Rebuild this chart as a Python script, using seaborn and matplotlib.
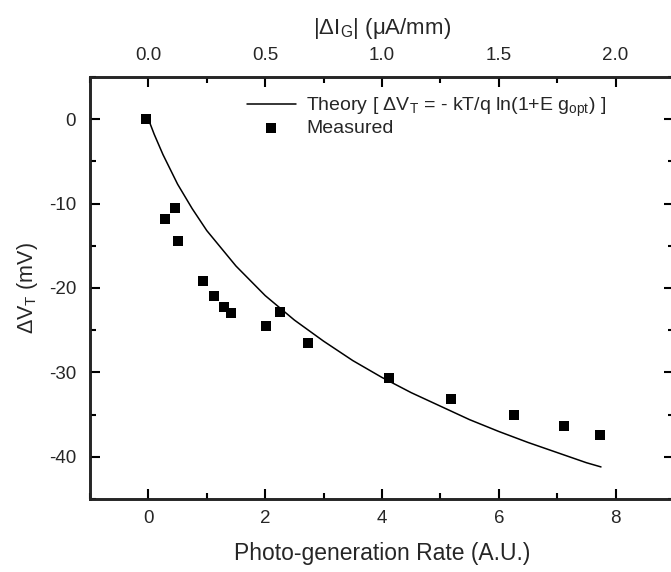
import numpy as np
import pandas as pd
import matplotlib
matplotlib.use("Agg")
import matplotlib.pyplot as plt
from matplotlib.ticker import MultipleLocator, FixedLocator, FormatStrFormatter
import seaborn as sns

meas_x = [-0.04, 0.28, 0.46, 0.50, 0.94, 1.12, 1.30, 1.42, 2.02, 2.25, 2.74, 4.12, 5.19, 6.26, 7.11, 7.73]
meas_y = [0.0, -11.8, -10.5, -14.4, -19.2, -21.0, -22.2, -23.0, -24.5, -22.9, -26.5, -30.7, -33.2, -35.1, -36.4, -37.4]

# Theory curve
theo_x = [0.0, 0.1, 0.25, 0.5, 0.75, 1.0, 1.5, 2.0, 2.5, 3.0, 3.5, 4.0, 4.5, 5.0, 5.5, 6.0, 6.5, 7.0, 7.5, 7.75]
theo_y = [0.0, -1.8, -4.2, -7.7, -10.6, -13.2, -17.4, -20.9, -23.8, -26.3, -28.6, -30.6, -32.4, -34.0, -35.6, -37.0, -38.3, -39.5, -40.7, -41.2]

# Top axis ticks (|ΔI_G|, μA/mm)
top_ticks = [0.0, 0.5, 1.0, 1.5, 2.0]

sns.set_theme(style="ticks")
plt.rcParams['font.family'] = ['Liberation Sans', 'DejaVu Sans']
plt.rcParams['mathtext.fontset'] = 'custom'
plt.rcParams['mathtext.rm'] = 'Liberation Sans'
plt.rcParams['mathtext.it'] = 'Liberation Sans:italic'
plt.rcParams['axes.unicode_minus'] = False

fig = plt.figure(figsize=(6.71, 5.72), dpi=100)
ax = fig.add_axes([90/671, 73/572, 584/671, 422/572])

theo = pd.DataFrame({"x": theo_x, "y": theo_y})
meas = pd.DataFrame({"x": meas_x, "y": meas_y})

sns.lineplot(data=theo, x="x", y="y", ax=ax, color="black", linewidth=1.1,
             label=r"Theory [ $\Delta$V$_\mathregular{T}$ = - kT/q ln(1+E g$_\mathregular{opt}$) ]",
             sort=False)
sns.scatterplot(data=meas, x="x", y="y", ax=ax, color="black", marker="s", s=62,
                edgecolor="black", linewidth=0, label="Measured")

ax.set_xlim(-1, 9)
ax.set_ylim(-45, 5)
ax.xaxis.set_major_locator(MultipleLocator(2))
ax.xaxis.set_minor_locator(MultipleLocator(1))
ax.yaxis.set_major_locator(MultipleLocator(10))
ax.yaxis.set_minor_locator(MultipleLocator(5))

for s in ax.spines.values():
    s.set_linewidth(1.8)
    s.set_color("black")

ax.tick_params(which="both", direction="in", right=True, top=False, color="black", width=1.5)
ax.tick_params(which="major", length=7, labelsize=13.5)
ax.tick_params(which="minor", length=4)
ax.tick_params(axis="x", which="major", pad=8)
ax.tick_params(axis="y", which="major", pad=10)

ax.set_xlabel("Photo-generation Rate (A.U.)", fontsize=16.5, labelpad=11)
ax.set_ylabel(r"$\Delta$V$_\mathregular{T}$ (mV)", fontsize=15.5, labelpad=6)

top = ax.twiny()
top.set_xlim(-1 / 4.0, 9 / 4.0)
top.xaxis.set_major_locator(FixedLocator(top_ticks))
top.xaxis.set_minor_locator(MultipleLocator(0.25))
top.xaxis.set_major_formatter(FormatStrFormatter('%.1f'))
top.tick_params(which="both", direction="in", color="black", width=1.5)
top.tick_params(which="major", length=7, labelsize=13.5, pad=9)
top.tick_params(which="minor", length=4)
for s in top.spines.values():
    s.set_linewidth(1.8)
top.set_xlabel(r"|$\Delta$I$_\mathregular{G}$| (μA/mm)", fontsize=16, labelpad=10)

leg = ax.legend(loc="upper left", bbox_to_anchor=(0.255, 0.975), frameon=False,
                fontsize=14, handlelength=2.55, handletextpad=0.5, labelspacing=0.05,
                borderaxespad=0)

fig.savefig("out.png", dpi=100)
